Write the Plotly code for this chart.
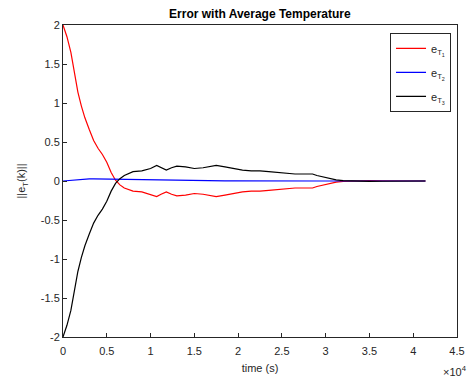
import plotly.graph_objects as go

time_s = [0, 450, 900, 1300, 1700, 2100, 2500, 3000, 3500, 4000, 4500, 5000, 5500, 6000,
          6500, 7000, 8000, 9000, 10000, 10700, 11200, 11800, 12400, 13000, 14000, 15000,
          16000, 17000, 17500, 18500, 19500, 20500, 21500, 22500, 23500, 24500, 25500,
          26500, 27500, 28500, 29000, 29700, 30500, 31200, 32000, 33000, 34000, 35000,
          36500, 38000, 39500, 41400]

e_T1 = [2.0, 1.85, 1.65, 1.38, 1.14, 0.96, 0.81, 0.66, 0.52, 0.42, 0.34, 0.24, 0.11, 0.01,
        -0.05, -0.09, -0.13, -0.14, -0.17, -0.20, -0.17, -0.14, -0.17, -0.19, -0.18, -0.16,
        -0.17, -0.19, -0.20, -0.18, -0.16, -0.14, -0.13, -0.13, -0.12, -0.11, -0.10,
        -0.09, -0.09, -0.09, -0.07, -0.05, -0.03, -0.015, -0.005, 0.0, 0.005, 0.005,
        0.003, 0.0, 0.0, 0.0]

e_T2 = [0.0, 0.004, 0.01, 0.016, 0.02, 0.023, 0.025, 0.026, 0.026, 0.025, 0.024, 0.023,
        0.022, 0.021, 0.02, 0.018, 0.015, 0.012, 0.009, 0.008, 0.007, 0.006, 0.005, 0.004,
        0.003, 0.002, 0.002, 0.001, 0.001, 0.001, 0.001, 0.0, 0.0, 0.0, 0.0, 0.0, 0.0,
        0.0, 0.0, 0.0, 0.0, 0.0, 0.0, 0.0, 0.0, 0.0, 0.0, 0.0, 0.0, 0.0, 0.0, 0.0]

e_T3 = [-2.0, -1.85, -1.66, -1.39, -1.16, -0.98, -0.83, -0.68, -0.54, -0.44, -0.36, -0.26,
        -0.13, -0.03, 0.03, 0.07, 0.12, 0.13, 0.16, 0.20, 0.17, 0.14, 0.17, 0.19, 0.18,
        0.16, 0.17, 0.19, 0.20, 0.18, 0.16, 0.14, 0.13, 0.13, 0.12, 0.11, 0.10, 0.09,
        0.09, 0.09, 0.07, 0.05, 0.03, 0.015, 0.005, 0.0, -0.005, -0.005, -0.003, 0.0,
        0.0, 0.0]

x_ticks = [0, 5000, 10000, 15000, 20000, 25000, 30000, 35000, 40000, 45000]
x_labels = ["0", "0.5", "1", "1.5", "2", "2.5", "3", "3.5", "4", "4.5"]
y_ticks = [-2, -1.5, -1, -0.5, 0, 0.5, 1, 1.5, 2]
y_labels = ["-2", "-1.5", "-1", "-0.5", "0", "0.5", "1", "1.5", "2"]

FONT = "Liberation Sans, Arial, sans-serif"
AX = "#262626"

fig = go.Figure()
series = [
    (e_T1, "#ff0000", "e<sub>T<sub>1</sub></sub>", "g1"),
    (e_T2, "#0000ff", "e<sub>T<sub>2</sub></sub>", "g2"),
    (e_T3, "#000000", "e<sub>T<sub>3</sub></sub>", "g3"),
]
for vals, col, name, grp in series:
    fig.add_trace(go.Scatter(x=time_s, y=vals, mode="lines", name=name, legendgroup=grp,
                             line=dict(color=col, width=1.2)))

axis_common = dict(showgrid=False, zeroline=False, showline=True, mirror=True,
                   linecolor=AX, linewidth=1, ticks="inside", ticklen=4, automargin=False,
                   tickcolor=AX, tickfont=dict(family=FONT, size=11, color=AX))

fig.update_layout(
    width=470, height=380,
    margin=dict(l=63, r=13, t=25, b=43),
    paper_bgcolor="white", plot_bgcolor="white",
    font=dict(family=FONT, size=11, color=AX),
    title=dict(text="<b>Error with Average Temperature</b>", x=0.553, xanchor="center",
               y=0.963, yanchor="middle", font=dict(family=FONT, size=12, color="#000000")),
    xaxis=dict(range=[0, 45000], tickvals=x_ticks, ticktext=x_labels, ticklabelstandoff=4,
               title=dict(text="time (s)", font=dict(family=FONT, size=11, color=AX), standoff=8),
               **axis_common),
    yaxis=dict(range=[-2, 2], tickvals=y_ticks, ticktext=y_labels,
               title=dict(text="||e<sub>T</sub>(k)||", font=dict(family=FONT, size=11, color=AX), standoff=12),
               **axis_common),
    legend=dict(x=0.83, y=0.975, xanchor="left", yanchor="top",
                bordercolor=AX, borderwidth=1, bgcolor="white",
                font=dict(family=FONT, size=11, color=AX),
                itemwidth=30, tracegroupgap=5),
    showlegend=True,
    annotations=[dict(text="×10<sup>4</sup>", x=1.03, y=-0.108, xref="paper", yref="paper",
                      xanchor="right", yanchor="middle", showarrow=False,
                      font=dict(family=FONT, size=11, color=AX))],
)

fig.write_html("out.html")
